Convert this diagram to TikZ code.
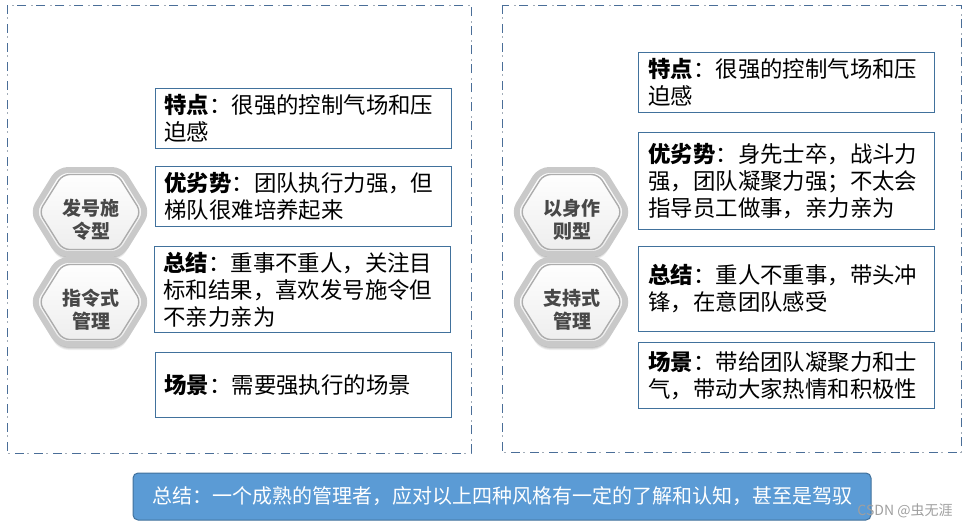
\documentclass[tikz,border=0pt]{standalone}
\usepackage{fontspec}
\setmainfont{Noto Sans CJK SC}
\usetikzlibrary{calc}
\definecolor{boxblue}{HTML}{41719C}
\definecolor{dashblue}{HTML}{4A6E98}
\definecolor{dotgray}{HTML}{A3ADB8}
\definecolor{fillblue}{HTML}{5B9BD5}
\definecolor{hextext}{HTML}{484848}
\newcommand\hexbg[2]{%
  \begin{scope}[shift={(#1,#2)}]
    \foreach \dy/\op in {6/0.06,5/0.08,4/0.10,3/0.12}{
      \fill[black, opacity=\op, rounded corners=9pt] (-57,\dy) -- (-31,-42+\dy) -- (31,-42+\dy) -- (57,\dy) -- (31,42+\dy) -- (-31,42+\dy) -- cycle;
    }
    \draw[hexrim] (-57,0) -- (-31,-42) -- (31,-42) -- (57,0) -- (31,42) -- (-31,42) -- cycle;
    \draw[hexinner] (-51,0) -- (-27.5,-37.5) -- (27.5,-37.5) -- (51,0) -- (27.5,37.5) -- (-27.5,37.5) -- cycle;
  \end{scope}}
\begin{document}
\begin{tikzpicture}[x=1pt,y=-1pt,
  infobox/.style={draw=boxblue, line width=1pt, fill=white, align=left,
    inner ysep=0pt, anchor=north west, text=black,
    font=\fontsize{22.4}{27}\selectfont},
  hexrim/.style={line width=6pt, draw=gray!42, rounded corners=9pt,
    top color=white, bottom color=gray!14},
  hexinner/.style={line width=1.4pt, draw=gray!65, rounded corners=7pt},
  hexlabel/.style={align=center, text=hextext, inner sep=0pt,
    font=\bfseries\fontsize{19}{23}\selectfont},
  sumbox/.style={draw=boxblue, line width=1pt, fill=fillblue, rounded corners=5pt,
    text=white, minimum width=738pt, minimum height=47pt, inner sep=0pt,
    font=\fontsize{20}{23}\selectfont},
  wmark/.style={text=gray!75, inner sep=0pt, font=\fontsize{14}{16}\selectfont},
  framedash/.style={draw=dashblue, line width=1pt, dash pattern=on 9pt off 10pt},
  framedot/.style={draw=dotgray, line width=1pt, dash pattern=on 2pt off 17pt, dash phase=7pt}
]
\useasboundingbox (0,0) rectangle (971,528);
% frames
\coordinate (lf1) at (7,5); \coordinate (lf2) at (471,453);
\coordinate (rf1) at (502,5); \coordinate (rf2) at (961,452);
\draw[framedot] (lf1) rectangle (lf2);
\draw[framedash] (lf1) rectangle (lf2);
\draw[framedot] (rf1) rectangle (rf2);
\draw[framedash] (rf1) rectangle (rf2);
% left hexagons
\hexbg{90}{212}
\hexbg{90}{302}
\node[hexlabel] (hA) at (91,220) {发号施\\令型};
\node[hexlabel] (hB) at (91,310) {指令式\\管理};
% right hexagons
\hexbg{571}{212}
\hexbg{571}{302}
\node[hexlabel] (hC) at (572,220) {以身作\\则型};
\node[hexlabel] (hD) at (572,310) {支持式\\管理};
% left boxes
\node[infobox, inner xsep=9pt, text width=278pt, minimum width=296pt, minimum height=60pt] (L1) at (155,88)
  {\textbf{特点}：很强的控制气场和压\\迫感};
\node[infobox, inner xsep=9pt, text width=278pt, minimum width=296pt, minimum height=60pt] (L2) at (155,166)
  {\textbf{优劣势}：团队执行力强，但\\梯队很难培养起来};
\node[infobox, inner xsep=9pt, text width=278pt, minimum width=296pt, minimum height=86pt] (L3) at (154,246)
  {\textbf{总结}：重事不重人，关注目\\标和结果，喜欢发号施令但\\不亲力亲为};
\node[infobox, inner xsep=9pt, text width=278pt, minimum width=296pt, minimum height=65pt] (L4) at (155,352)
  {\textbf{场景}：需要强执行的场景};
% right boxes
\node[infobox, inner xsep=10pt, text width=276pt, minimum width=296pt, minimum height=60pt] (R1) at (638,52)
  {\textbf{特点}：很强的控制气场和压\\迫感};
\node[infobox, inner xsep=10pt, text width=276pt, minimum width=296pt, minimum height=97pt] (R2) at (638,132)
  {\textbf{优劣势}：身先士卒，战斗力\\强，团队凝聚力强；不太会\\指导员工做事，亲力亲为};
\node[infobox, inner xsep=10pt, text width=276pt, minimum width=296pt, minimum height=85pt] (R3) at (638,246)
  {\textbf{总结}：重人不重事，带头冲\\锋，在意团队感受};
\node[infobox, inner xsep=10pt, text width=276pt, minimum width=296pt, minimum height=66pt] (R4) at (638,342)
  {\textbf{场景}：带给团队凝聚力和士\\气，带动大家热情和积极性};
% summary
\node[sumbox] (S) at (502,496.5) {总结：一个成熟的管理者，应对以上四种风格有一定的了解和认知，甚至是驾驭};
\node[wmark] (W) at (905,511) {CSDN @虫无涯};
\end{tikzpicture}
\end{document}
